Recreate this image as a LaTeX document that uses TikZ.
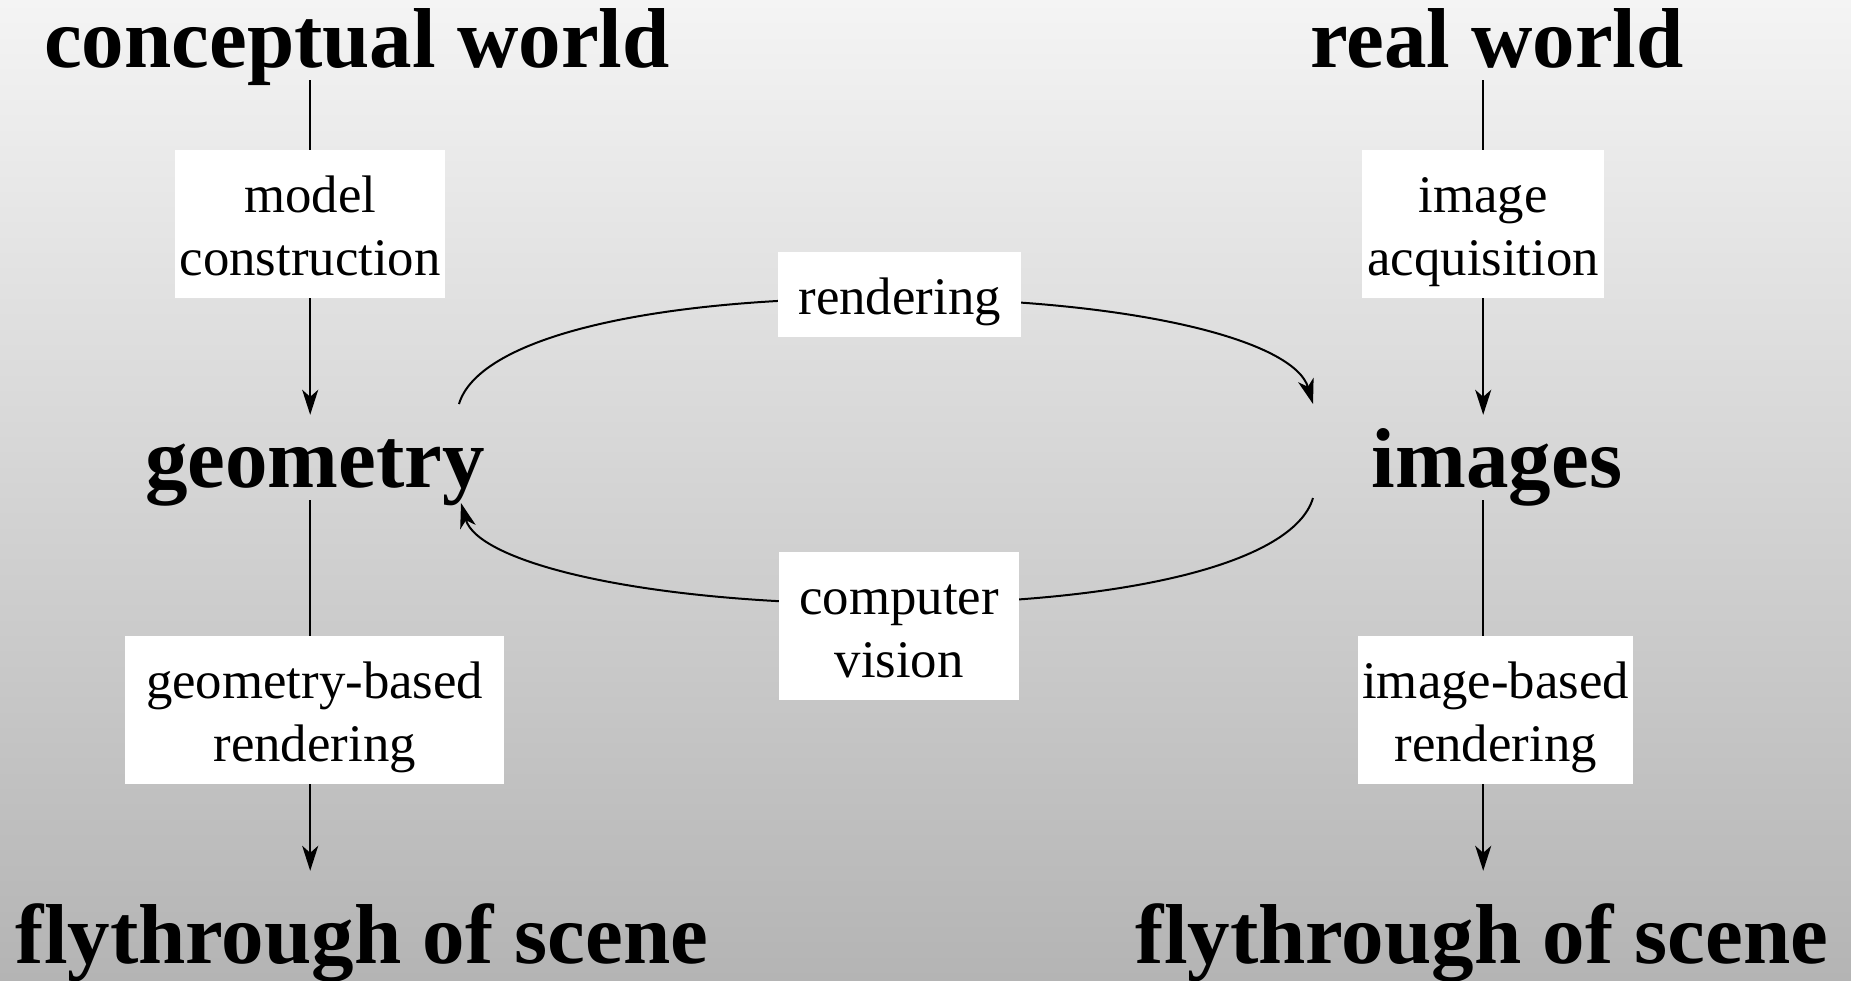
\documentclass[tikz,border=0pt]{standalone}
\usepackage{fontspec}
\setmainfont{Liberation Serif}
\usetikzlibrary{arrows.meta}
\pgfdeclarelayer{bg}
\pgfdeclarelayer{lines}
\pgfsetlayers{bg,lines,main}
\definecolor{bgtop}{RGB}{244,244,244}
\definecolor{bgbot}{RGB}{180,180,180}
\begin{document}
\begin{tikzpicture}[x=1pt,y=-1pt,
  title/.style={font=\fontsize{85}{100}\selectfont\bfseries, inner sep=0pt,
    text height=72pt, text depth=13pt, anchor=base},
  lbl/.style={font=\fontsize{52.8}{63}\selectfont, fill=white, inner sep=0pt,
    align=center, text height=62pt, text depth=23pt, anchor=north west},
  twolines/.style={text height=125pt, text depth=23pt},
  conn/.style={line width=2pt, draw=black},
  arr/.style={conn, -{Stealth[length=25pt,width=16pt,inset=7pt]}},
]
\useasboundingbox (0,0) rectangle (1851,980);
\begin{pgfonlayer}{bg}
  \shade[top color=bgtop, bottom color=bgbot] (0,0) rectangle (1851,980);
\end{pgfonlayer}

% titles
\node[title] (cw) at (357,67) {conceptual world};
\node[title] (rw) at (1497,67) {real world};
\node[title] (geo) at (315,487) {geometry};
\node[title] (img) at (1497,487) {images};
\node[title, text height=92pt] (fl1) at (362,963) {flythrough of scene};
\node[title, text height=92pt] (fl2) at (1482,963) {flythrough of scene};

% label boxes
\node[lbl, twolines, minimum width=270pt] (mc) at (175,150) {model\\construction};
\node[lbl, twolines, minimum width=242pt] (ia) at (1362,150) {image\\acquisition};
\node[lbl, minimum width=243pt] (rend) at (778,252) {rendering};
\node[lbl, twolines, minimum width=240pt] (cv) at (779,552) {computer\\vision};
\node[lbl, twolines, minimum width=379pt] (gbr) at (125,636) {geometry-based\\rendering};
\node[lbl, twolines, minimum width=275pt] (ibr) at (1358,636) {image-based\\rendering};

% arc end points
\coordinate (ls) at (459,404);
\coordinate (tm) at (886,298);
\coordinate (re) at (1313,404);
\coordinate (rs) at (1313,498);
\coordinate (bm) at (886,604);
\coordinate (le) at (461,503);

\begin{pgfonlayer}{lines}
  % left column
  \draw[conn] (cw.south -| mc.north) -- (mc.north);
  \draw[arr] (mc.south) -- (mc.south |- geo.north);
  \draw[conn] (geo.south -| mc.south) -- (gbr.north -| mc.south);
  \draw[arr] (gbr.south -| mc.south) -- (fl1.north -| mc.south);
  % right column
  \draw[conn] (rw.south -| ia.north) -- (ia.north);
  \draw[arr] (ia.south) -- (ia.south |- img.north);
  \draw[conn] (img.south -| ia.south) -- (ibr.north -| ia.south);
  \draw[arr] (ibr.south -| ia.south) -- (fl2.north -| ia.south);
  % rendering arc (geometry -> images)
  \draw[arr] (ls) .. controls (478,340) and (640,298) .. (tm)
                  .. controls (1132,298) and (1294,340) .. (re);
  % computer vision arc (images -> geometry)
  \draw[arr] (rs) .. controls (1294,562) and (1132,604) .. (bm)
                  .. controls (640,604) and (478,562) .. (le);
\end{pgfonlayer}
\end{tikzpicture}
\end{document}
